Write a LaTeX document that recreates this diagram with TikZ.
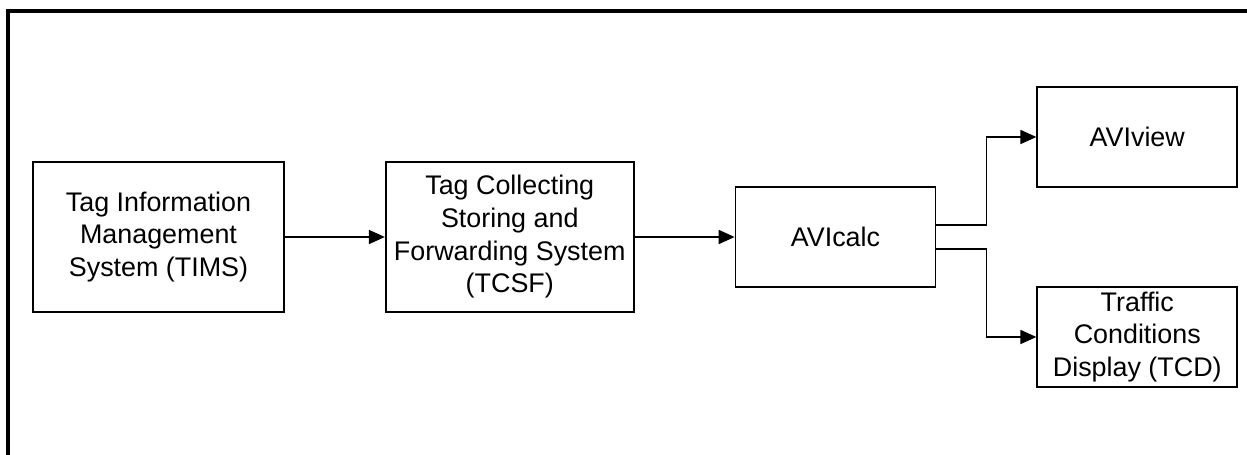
\documentclass[tikz,border=0pt]{standalone}
\usepackage{fontspec}
\setmainfont{Liberation Sans}
\usetikzlibrary{arrows.meta, positioning, calc}

\begin{document}
\begin{tikzpicture}[node distance=2cm,
  sysbox/.style={rectangle, draw, line width=1pt, align=center, inner sep=1pt, font=\fontsize{15.3}{18.6}\selectfont},
  flow/.style={-{Triangle[length=0.32cm, width=0.28cm]}, line width=1pt}]
\useasboundingbox (0,0) rectangle (24.94,-9.1);
\draw[line width=1.8pt] (0.16,-9.1) -- (0.16,-0.22) -- (24.94,-0.22);

\node[sysbox, minimum width=5.02cm, minimum height=3cm] (tims) at (3.17,-4.74) {Tag Information\\Management\\System (TIMS)};
\node[sysbox, minimum width=4.96cm, minimum height=3cm, right=of tims] (tcsf) {Tag Collecting\\Storing and\\Forwarding System\\(TCSF)};
\node[sysbox, minimum width=4cm, minimum height=2cm, right=of tcsf] (calc) {AVIcalc};
\node[sysbox, minimum width=4cm, minimum height=2cm, right=of calc, yshift=2cm] (view) {AVIview};
\node[sysbox, minimum width=4cm, minimum height=2cm, right=of calc, yshift=-2cm] (tcd) {Traffic\\Conditions\\Display (TCD)};

\draw[flow] (tims) -- (tcsf);
\draw[flow] (tcsf) -- (calc);
\draw[flow] ([yshift=0.24cm]calc.east) -- ++(1cm,0) |- (view.west);
\draw[flow] ([yshift=-0.24cm]calc.east) -- ++(1cm,0) |- (tcd.west);
\end{tikzpicture}
\end{document}
